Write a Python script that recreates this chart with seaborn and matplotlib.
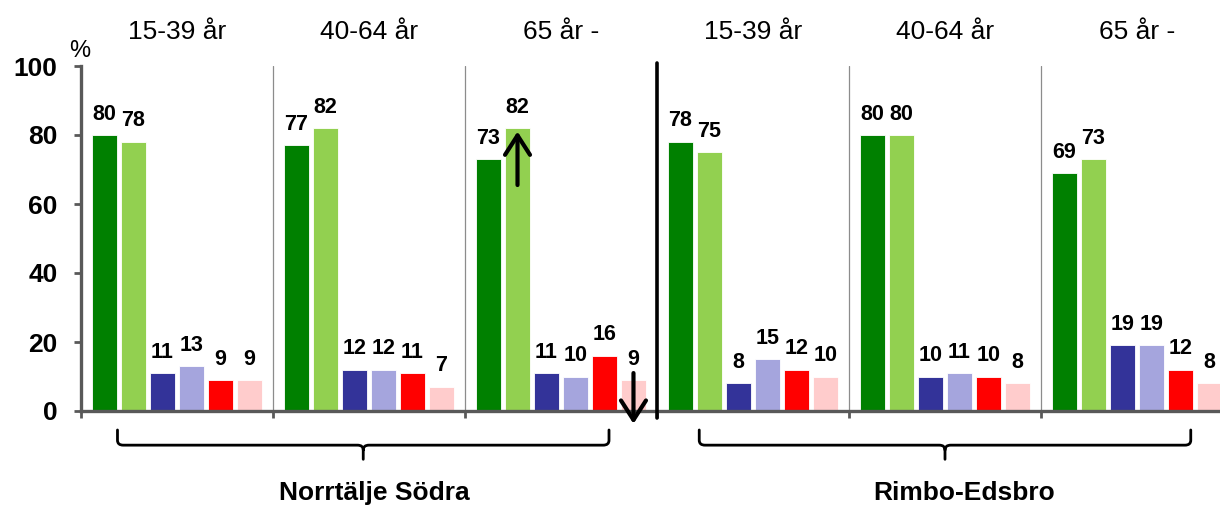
import numpy as np
import pandas as pd
import matplotlib
matplotlib.use("Agg")
import matplotlib.pyplot as plt
from matplotlib.path import Path
from matplotlib.patches import PathPatch
import seaborn as sns

# ---- data ----
areas = ["Norrtälje Södra", "Rimbo-Edsbro"]
ages = ["15-39 år", "40-64 år", "65 år -"]
series = ["serie 1", "serie 2", "serie 3", "serie 4", "serie 5", "serie 6"]
s1 = [80, 77, 73, 78, 80, 69]
s2 = [78, 82, 82, 75, 80, 73]
s3 = [11, 12, 11, 8, 10, 19]
s4 = [13, 12, 10, 15, 11, 19]
s5 = [9, 11, 16, 12, 10, 12]
s6 = [9, 7, 9, 10, 8, 8]
colors = ["#008000", "#92D050", "#333399", "#A5A5DD", "#FF0000", "#FFCCCC"]
yticks = [0, 20, 40, 60, 80, 100]

groups = [f"{a} {g}" for a in areas for g in ages]
group_labels = [g for a in areas for g in ages]
rows = []
for name, vals in zip(series, [s1, s2, s3, s4, s5, s6]):
    for grp, v in zip(groups, vals):
        rows.append({"group": grp, "series": name, "value": v})
df = pd.DataFrame(rows)

sns.set_style("white")
plt.rcParams["font.family"] = ["Liberation Sans", "DejaVu Sans"]
plt.rcParams["text.color"] = "black"
plt.rcParams["xtick.labelcolor"] = "black"
plt.rcParams["ytick.labelcolor"] = "black"

W, H = 1220, 507
fig = plt.figure(figsize=(W / 100, H / 100), dpi=100)
ax = fig.add_axes([81 / W, (H - 411) / H, 6 * 192 / W, 345 / H])

sns.barplot(data=df, x="group", y="value", hue="series", order=groups,
            hue_order=series, palette=colors, saturation=1, errorbar=None,
            width=0.906, gap=0.17, dodge=True, legend=False, ax=ax,
            edgecolor="white", linewidth=0.6)

ax.set_xlim(-0.5, 5.5)
ax.set_ylim(0, 100)
ax.set_xlabel("")
ax.set_ylabel("")

# spines / ticks
axis_col = "#595959"
for s in ["top", "right"]:
    ax.spines[s].set_visible(False)
for s in ["left", "bottom"]:
    ax.spines[s].set_color(axis_col)
    ax.spines[s].set_linewidth(2.4)
ax.set_yticks(yticks)
ax.set_yticklabels([str(t) for t in yticks], fontsize=19, fontweight="bold",
                   color="black")
ax.tick_params(axis="y", direction="out", length=5, width=2, color=axis_col,
               pad=12, left=True)
ax.set_xticks([])
ax.set_xticks(np.arange(-0.5, 6.0, 1.0), minor=True)
ax.tick_params(axis="x", which="minor", direction="out", length=5, width=2,
               color=axis_col, bottom=True)

# group labels at top
sec = ax.secondary_xaxis("top")
sec.set_xticks(range(len(groups)))
sec.set_xticklabels(group_labels, fontsize=19, color="black")
sec.tick_params(length=0, pad=16)
sec.spines["top"].set_visible(False)

# separators
for x in [0.5, 1.5, 3.5, 4.5]:
    ax.axvline(x, color="#8c8c8c", lw=0.9, zorder=0)
ax.plot([2.5, 2.5], [-2, 101], color="black", lw=2.6, clip_on=False, zorder=5)

# value labels
for cont in ax.containers:
    ax.bar_label(cont, padding=7.5, fontsize=15.5, fontweight="bold", color="black")

# percent sign
ax.text(-0.001, 1.043, "%", transform=ax.transAxes, ha="center", va="center",
        fontsize=17, color="black")

# arrows on group "Norrtälje Södra 65 år -"
up_bar = ax.containers[1].patches[2]
dn_bar = ax.containers[5].patches[2]
ux = up_bar.get_x() + up_bar.get_width() / 2
dx = dn_bar.get_x() + dn_bar.get_width() / 2
style = "->,head_length=0.7,head_width=0.45"
ax.annotate("", xy=(ux, up_bar.get_height() - 1.0), xytext=(ux, up_bar.get_height() - 16.5),
            arrowprops=dict(arrowstyle=style, lw=3.0, color="black",
                            mutation_scale=20, shrinkA=0, shrinkB=0),
            annotation_clip=False)
ax.annotate("", xy=(dx, -3.7), xytext=(dx, dn_bar.get_height() + 2),
            arrowprops=dict(arrowstyle=style, lw=3.0, color="black",
                            mutation_scale=20, shrinkA=0, shrinkB=0),
            annotation_clip=False)

# braces + area labels
def brace(xc, half, y0=-5.5, y1=-9.9, y2=-14.0, r=0.03, rv=1.4):
    xl, xr = xc - half, xc + half
    verts = [(xl, y0), (xl, y1 + rv), (xl, y1), (xl + r, y1),
             (xc - r, y1), (xc, y1), (xc, y1 - rv), (xc, y2),
             (xc, y1 - rv), (xc, y1), (xc + r, y1),
             (xr - r, y1), (xr, y1), (xr, y1 + rv), (xr, y0)]
    codes = [Path.MOVETO, Path.LINETO, Path.CURVE3, Path.CURVE3,
             Path.LINETO, Path.CURVE3, Path.CURVE3, Path.LINETO,
             Path.MOVETO, Path.CURVE3, Path.CURVE3,
             Path.LINETO, Path.CURVE3, Path.CURVE3, Path.LINETO]
    p = PathPatch(Path(verts, codes), fill=False, lw=2.0, color="black",
                  clip_on=False, capstyle="round", joinstyle="round")
    ax.add_patch(p)

for xc, tx, name in zip([0.97, 4.0], [1.026, 4.099], areas):
    brace(xc, 1.28)
    ax.text(tx, -23.8, name, ha="center", va="center", fontsize=19,
            fontweight="bold", clip_on=False, color="black")

fig.savefig("out.png", dpi=100)
